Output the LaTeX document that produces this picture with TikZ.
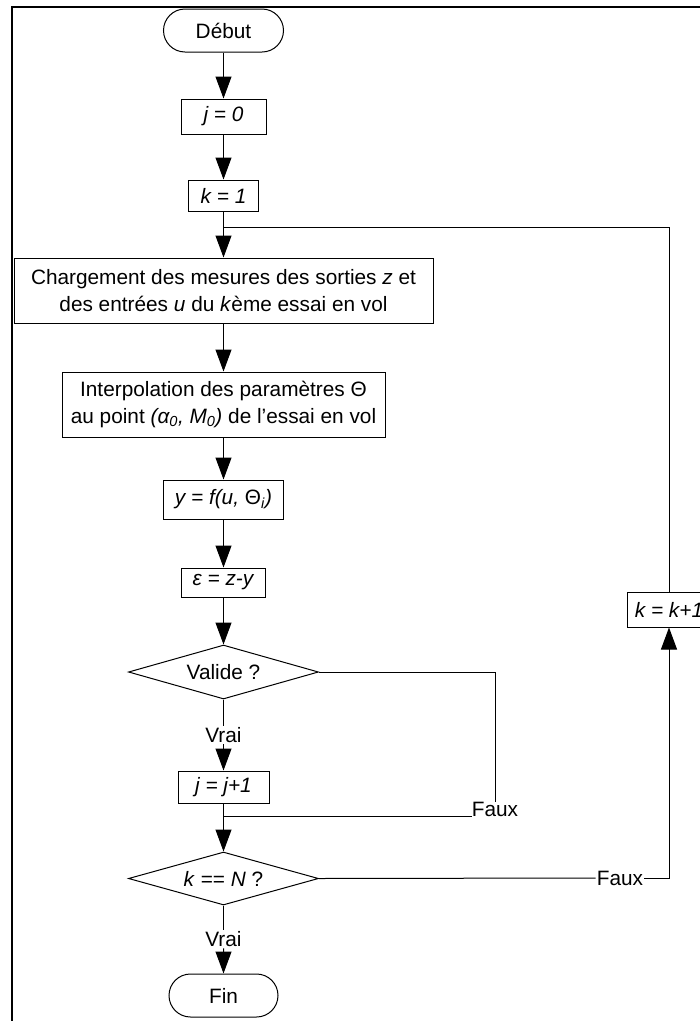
\documentclass[tikz,border=0pt]{standalone}
\usepackage{fontspec}
\setmainfont{Liberation Sans}
\usetikzlibrary{shapes.misc,shapes.geometric,arrows.meta}
\begin{document}
\begin{tikzpicture}[x=1pt,y=-1pt,
  every node/.style={font=\fontsize{20.8}{27.5}\selectfont},
  flow/.style={draw, line width=1pt, inner sep=0pt, align=center},
  proc/.style={flow, rectangle},
  term/.style={flow, rounded rectangle, minimum height=43pt},
  test/.style={flow, diamond, aspect=3.5},
  lbl/.style={inner sep=1.5pt},
  link/.style={line width=1pt, -{Triangle[length=22pt,width=16pt]}},
  wire/.style={line width=1pt}]
\clip (0,0) rectangle (700,1021);
\fill[white] (0,0) rectangle (700,1021);
% outer frame
\draw[line width=2.5pt] (12,7) rectangle (730,1050);

% main column
\node[term, minimum width=120pt] (debut) at (223.5,30.5) {Début};
\node[proc, minimum width=85pt, minimum height=35pt] (j0) at (223.5,116.5) {\textit{j = 0}};
\node[proc, minimum width=70pt, minimum height=31pt] (k1) at (223.5,195.5) {\textit{k = 1}};
\node[proc, minimum width=419pt, minimum height=65pt] (charg) at (223.5,290.5)
  {Chargement des mesures des sorties \textit{z} et\\des entrées \textit{u} du \textit{k}ème essai en vol};
\node[proc, minimum width=323pt, minimum height=65pt] (interp) at (223.5,404.5)
  {Interpolation des paramètres Θ\\au point \textit{(α\textsubscript{0}, M\textsubscript{0})} de l’essai en vol};
\node[proc, minimum width=120pt, minimum height=39pt] (yf) at (223.5,499.5) {\textit{y = f(u, }Θ\textsubscript{\textit{i}}\textit{)}};
\node[proc, minimum width=84pt, minimum height=29pt] (eps) at (223.5,582.5) {\textit{ε = z-y}};
\node[test, minimum width=190pt, minimum height=54pt] (valide) at (223.5,672) {Valide ?};
\node[lbl] (vrai1) at (223.5,735) {Vrai};
\node[proc, minimum width=91pt, minimum height=32pt] (jj1) at (223.5,787) {\textit{j = j+1}};
\node[inner sep=0pt, anchor=base] (faux1) at (495,816) {Faux};
\coordinate (merge) at (223.5,816);
\node[test, minimum width=190pt, minimum height=53pt] (kN) at (223.5,878.5) {\textit{k} == \textit{N} ?};
\node[lbl] (vrai2) at (223.5,939) {Vrai};
\node[term, minimum width=109pt] (fin) at (223.5,995.5) {Fin};

% loop-back branch
\node[proc, minimum width=84pt, minimum height=35pt] (kk1) at (669,609.5) {\textit{k = k+1}};
\node[inner sep=1pt] (faux2) at (620,878) {Faux};
\coordinate (loop) at (223.5,227);

% connectors
\draw[link] (debut) -- (j0);
\draw[link] (j0) -- (k1);
\draw[link] (k1) -- (charg);
\draw[link] (charg) -- (interp);
\draw[link] (interp) -- (yf);
\draw[link] (yf) -- (eps);
\draw[link] (eps) -- (valide);
\draw[wire] (valide) -- (vrai1);
\draw[link] (vrai1) -- (jj1);
\draw[wire] (valide.east) -| (faux1.north);
\draw[wire] (faux1.base west) -- (merge);
\draw[link] (jj1) -- (kN);
\draw[wire] (kN) -- (vrai2);
\draw[link] (vrai2) -- (fin);
\draw[wire] (kN.east) -- (faux2.west);
\draw[link] (faux2.east) -| (kk1.south);
\draw[wire] (kk1.north) |- (loop);
\end{tikzpicture}
\end{document}
